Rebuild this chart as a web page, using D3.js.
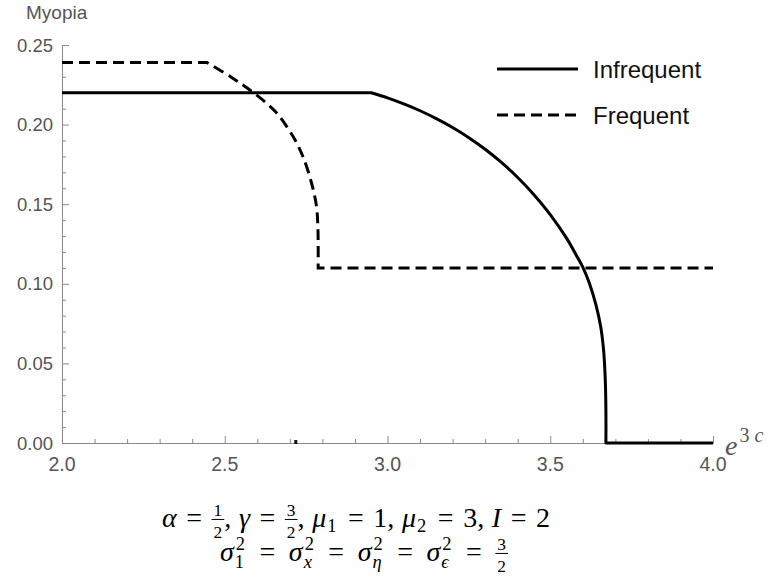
<!DOCTYPE html>
<html>
<head>
<meta charset="utf-8">
<script src="https://cdn.jsdelivr.net/npm/d3@7"></script>
<style>
  body { margin: 0; background: #fff; }
  svg { display: block; }
</style>
</head>
<body>
<svg id="chart" width="770" height="579"></svg>
<script>
// values
let infreqX = [2.0, 2.95, 3.00, 3.05, 3.10, 3.15, 3.20, 3.25, 3.30, 3.35, 3.40, 3.45, 3.50, 3.55, 3.58, 3.60, 3.62, 3.64, 3.655, 3.664, 3.669, 3.671, 3.671, 4.0]
let infreqY = [0.22, 0.22, 0.2168, 0.213, 0.2087, 0.2038, 0.1982, 0.1918, 0.1845, 0.1762, 0.1668, 0.156, 0.1435, 0.1287, 0.118, 0.1105, 0.1005, 0.087, 0.073, 0.058, 0.04, 0.02, 0, 0]
let freqX = [2.0, 2.445, 2.52, 2.583, 2.63, 2.66, 2.71, 2.74, 2.767, 2.782, 2.786, 2.787, 2.787, 4.0]
let freqY = [0.239, 0.239, 0.2298, 0.2208, 0.2132, 0.2072, 0.1925, 0.180, 0.163, 0.1485, 0.136, 0.125, 0.11, 0.11]
let xTicks = [2.0, 2.5, 3.0, 3.5, 4.0]
let yTicks = [0.00, 0.05, 0.10, 0.15, 0.20, 0.25]
let seriesNames = ["Infrequent", "Frequent"]
let eMark = Math.E

let svg = d3.select("#chart")
let width = 770, height = 579

let x = d3.scaleLinear().domain([2, 4]).range([62, 713])
let y = d3.scaleLinear().domain([0, 0.25]).range([443, 45])

let axisColor = "#8a8a8a"
let labelColor = "#555"
let sans = "Liberation Sans, Arial, sans-serif"
let serif = "Liberation Serif, Times New Roman, serif"

// axes
let xAxis = svg.append("g").attr("transform", `translate(0,${y(0)})`)
xAxis.call(d3.axisBottom(x).tickValues(d3.range(2, 4.001, 0.1)).tickSize(-4).tickFormat(""))
xAxis.call(g => g.selectAll(".tick line").filter(d => xTicks.some(t => Math.abs(t - d) < 1e-6)).attr("y2", -7))
xAxis.select(".domain").attr("stroke", axisColor)
xAxis.selectAll(".tick line").attr("stroke", axisColor)

let yAxis = svg.append("g").attr("transform", `translate(${x(2)},0)`)
yAxis.call(d3.axisLeft(y).tickValues(d3.range(0, 0.2501, 0.01)).tickSize(-4).tickFormat(""))
yAxis.call(g => g.selectAll(".tick line").filter(d => yTicks.some(t => Math.abs(t - d) < 1e-6)).attr("x2", 7))
yAxis.select(".domain").attr("stroke", axisColor)
yAxis.selectAll(".tick line").attr("stroke", axisColor)

svg.append("g").selectAll("text").data(xTicks).enter().append("text")
  .attr("x", d => x(d)).attr("y", y(0) + 28)
  .attr("text-anchor", "middle")
  .attr("font-family", sans).attr("font-size", 19.5).attr("fill", labelColor)
  .text(d => d.toFixed(1))

svg.append("g").selectAll("text").data(yTicks).enter().append("text")
  .attr("x", 53).attr("y", d => y(d) + 6.5)
  .attr("text-anchor", "end")
  .attr("font-family", sans).attr("font-size", 18.5).attr("fill", labelColor)
  .text(d => d.toFixed(2))

svg.append("text").attr("x", 26).attr("y", 19)
  .attr("font-family", sans).attr("font-size", 19).attr("fill", labelColor)
  .text("Myopia")

// x axis label e^{3c}
let xl = svg.append("text").attr("x", 725).attr("y", 455)
  .attr("font-family", serif).attr("fill", labelColor)
xl.append("tspan").attr("font-size", 28).attr("font-style", "italic").text("e")
xl.append("tspan").attr("font-size", 20).attr("dy", -13).attr("dx", 2).text("3")
xl.append("tspan").attr("font-size", 20).attr("font-style", "italic").attr("dx", 5).text("c")

// e marker on the axis
svg.append("line")
  .attr("x1", x(eMark)).attr("x2", x(eMark))
  .attr("y1", y(0) - 3).attr("y2", y(0) + 1)
  .attr("stroke", "#111").attr("stroke-width", 3)

// curves: straight pieces stay straight, the bend is smoothed
let straight = d3.line().x(d => x(d[0])).y(d => y(d[1]))
let smooth = d3.line().x(d => x(d[0])).y(d => y(d[1])).curve(d3.curveCatmullRom.alpha(0.5))

function seriesPath(xs, ys, last) {
  let pts = d3.zip(xs, ys)
  let head = pts.slice(0, 2)
  let bend = pts.slice(1, pts.length - last)
  let tail = pts.slice(pts.length - last - 1)
  return straight(head) + smooth(bend).replace(/^M/, "L") + straight(tail).replace(/^M/, "L")
}

svg.append("path")
  .attr("d", seriesPath(infreqX, infreqY, 1))
  .attr("fill", "none").attr("stroke", "#000").attr("stroke-width", 3)
  .attr("stroke-linejoin", "round")

svg.append("path")
  .attr("d", seriesPath(freqX, freqY, 1))
  .attr("fill", "none").attr("stroke", "#000").attr("stroke-width", 3)
  .attr("stroke-dasharray", "11,6")

// legend
let legend = svg.append("g")
legend.selectAll("line").data(seriesNames).enter().append("line")
  .attr("x1", 497).attr("x2", 578)
  .attr("y1", (d, i) => 69 + i * 46).attr("y2", (d, i) => 69 + i * 46)
  .attr("stroke", "#000").attr("stroke-width", 3)
  .attr("stroke-dasharray", (d, i) => i ? "11,6" : null)
legend.selectAll("text").data(seriesNames).enter().append("text")
  .attr("x", 593).attr("y", (d, i) => 78 + i * 46)
  .attr("font-family", sans).attr("font-size", 24).attr("fill", "#111")
  .text(d => d)

// parameter formula under the chart; spaces after "=" and "," stretch to fill [left, right]
function mathLine(items, left, right, by, fs) {
  let g = svg.append("g").attr("font-family", serif).attr("fill", "#000")
  let placed = []
  items.forEach(it => {
    let els = [], w = 0
    if (it.frac) {
      let s = fs * 0.62
      let n = g.append("text").attr("font-size", s).attr("text-anchor", "middle").text(it.frac[0])
      let d = g.append("text").attr("font-size", s).attr("text-anchor", "middle").text(it.frac[1])
      w = Math.max(n.node().getComputedTextLength(), d.node().getComputedTextLength()) + 4
      let ln = g.append("line").attr("y1", by - fs * 0.27).attr("y2", by - fs * 0.27)
        .attr("stroke", "#000").attr("stroke-width", 1)
      els.push({el: n, dx: w / 2, y: by - fs * 0.38}, {el: d, dx: w / 2, y: by + fs * 0.4}, {el: ln, line: w})
    } else {
      let t = g.append("text").attr("font-size", fs)
        .attr("font-style", it.i ? "italic" : "normal").text(it.t)
      els.push({el: t, dx: 0, y: by})
      w = t.node().getComputedTextLength()
      let extra = 0
      if (it.sup) {
        let u = g.append("text").attr("font-size", fs * 0.66).text(it.sup)
        els.push({el: u, dx: w + 2, y: by - fs * 0.38})
        extra = Math.max(extra, u.node().getComputedTextLength() + 3)
      }
      if (it.sub) {
        let b = g.append("text").attr("font-size", fs * 0.66)
          .attr("font-style", it.subi ? "italic" : "normal").text(it.sub)
        els.push({el: b, dx: w + 1, y: by + fs * (it.sup ? 0.26 : 0.18)})
        extra = Math.max(extra, b.node().getComputedTextLength() + 3)
      }
      w += extra
    }
    placed.push({it, els, w})
  })
  let natural = d3.sum(placed, p => p.w)
  let weight = d3.sum(placed, p => p.it.eq ? 2 : (p.it.comma ? 0.8 : 0))
  let gap = (right - left - natural) / weight
  let cur = left
  placed.forEach(p => {
    if (p.it.eq) cur += gap
    p.els.forEach(e => {
      if (e.line) e.el.attr("x1", cur).attr("x2", cur + e.line)
      else e.el.attr("x", cur + e.dx).attr("y", e.y)
    })
    cur += p.w
    if (p.it.eq) cur += gap
    if (p.it.comma) cur += gap * 0.8
  })
}

let eq = {t: "=", eq: true}
let comma = {t: ",", comma: true}
mathLine([
  {t: "α", i: 1}, eq, {frac: ["1", "2"]}, comma,
  {t: "γ", i: 1}, eq, {frac: ["3", "2"]}, comma,
  {t: "μ", i: 1, sub: "1"}, eq, {t: "1"}, comma,
  {t: "μ", i: 1, sub: "2"}, eq, {t: "3"}, comma,
  {t: "I", i: 1}, eq, {t: "2"}
], 162, 550, 527, 28)

mathLine([
  {t: "σ", i: 1, sub: "1", sup: "2"}, eq,
  {t: "σ", i: 1, sub: "x", subi: 1, sup: "2"}, eq,
  {t: "σ", i: 1, sub: "η", subi: 1, sup: "2"}, eq,
  {t: "σ", i: 1, sub: "ϵ", subi: 1, sup: "2"}, eq,
  {frac: ["3", "2"]}
], 220, 508, 561, 28)
</script>
</body>
</html>
